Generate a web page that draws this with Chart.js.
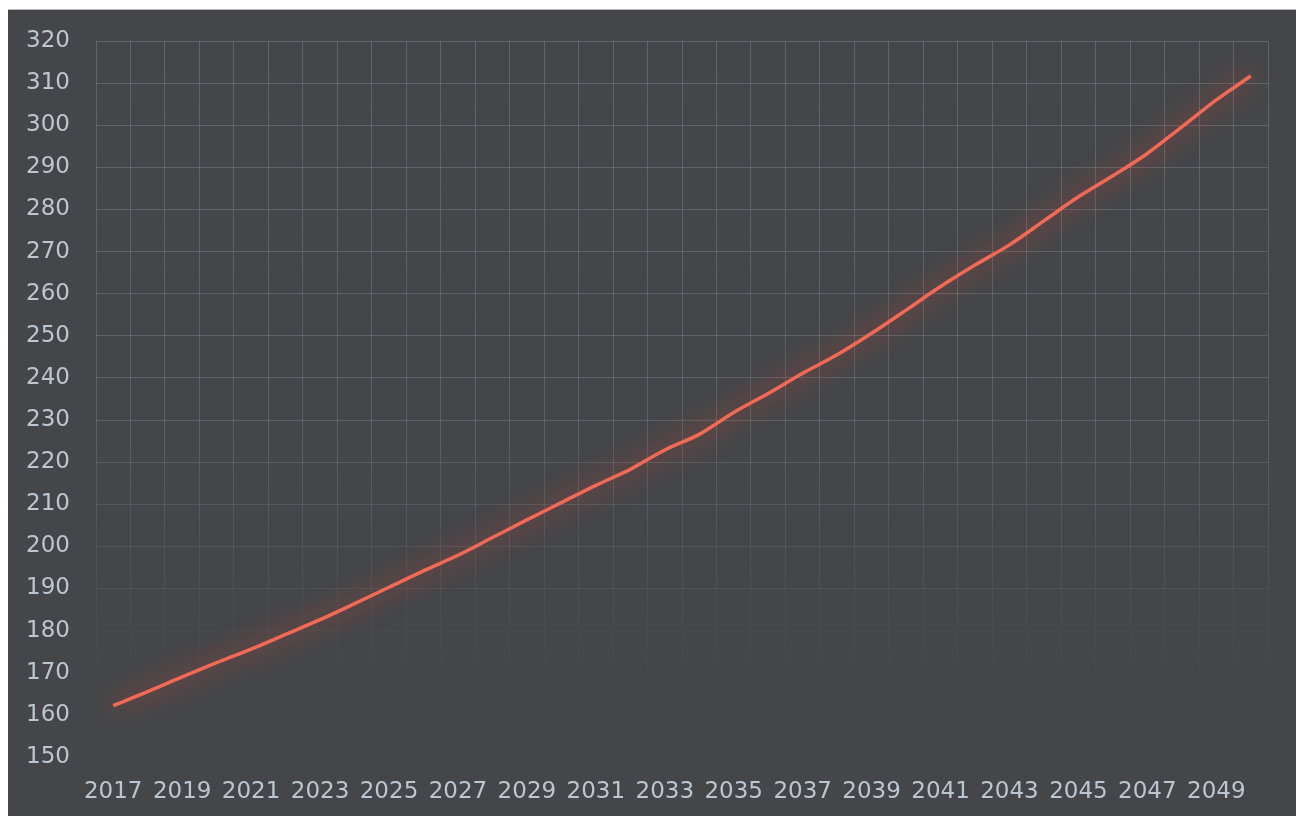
<!DOCTYPE html>
<html>
<head>
<meta charset="utf-8">
<title>Chart</title>
<script src="https://cdn.jsdelivr.net/npm/chart.js@4/dist/chart.umd.min.js"></script>
<style>
    html, body { margin: 0; padding: 0; background: #ffffff; }
    #panel {
        position: absolute;
        left: 8px;
        top: 9px;
        width: 1288px;
        height: 806px;
        background: #444649;
        border-top: 1px solid #b9b9b9;
    }
    #chart { display: block; }
</style>
</head>
<body>
<div id="panel"><canvas id="chart" width="1288" height="806"></canvas></div>
<script>
// data
const years = [
    '2017', '2018', '2019', '2020', '2021', '2022', '2023', '2024', '2025', '2026',
    '2027', '2028', '2029', '2030', '2031', '2032', '2033', '2034', '2035', '2036',
    '2037', '2038', '2039', '2040', '2041', '2042', '2043', '2044', '2045', '2046',
    '2047', '2048', '2049', '2050'
];
const values = [
    162.2, 165.5, 169.0, 172.4, 175.6, 179.1, 182.6, 186.4, 190.3, 194.2,
    197.9, 202.1, 206.3, 210.4, 214.5, 218.3, 222.9, 226.6, 231.8, 236.3,
    241.1, 245.5, 250.6, 256.1, 261.7, 266.8, 271.6, 277.3, 283.0, 288.0,
    293.3, 299.6, 306.0, 311.7
];
const yMin = 150;
const yMax = 320;
const yStep = 10;

const textColor = '#bcc6d0';
const tickFont = { family: '"DejaVu Sans", sans-serif', size: 23 };

// grid fades out toward the bottom of the plot
let gridGradient = null;
function gridColor(context) {
    const chart = context.chart;
    const area = chart.chartArea;
    if (!area) return 'rgba(120,126,132,0.45)';
    if (!gridGradient) {
        gridGradient = chart.ctx.createLinearGradient(0, area.top, 0, area.bottom);
        gridGradient.addColorStop(0, 'rgba(125,131,137,0.5)');
        gridGradient.addColorStop(0.55, 'rgba(125,131,137,0.42)');
        gridGradient.addColorStop(0.75, 'rgba(125,131,137,0.18)');
        gridGradient.addColorStop(0.9, 'rgba(125,131,137,0.0)');
        gridGradient.addColorStop(1, 'rgba(125,131,137,0.0)');
    }
    return gridGradient;
}

// soft red glow under the line
const glowPlugin = {
    id: 'glow',
    beforeDatasetDraw(chart) {
        const ctx = chart.ctx;
        ctx.save();
        ctx.shadowColor = 'rgba(240, 70, 50, 1)';
        ctx.shadowBlur = 26;
    },
    afterDatasetDraw(chart) {
        chart.ctx.restore();
    }
};

new Chart(document.getElementById('chart'), {
    type: 'line',
    data: {
        labels: years,
        datasets: [{
            data: values,
            borderColor: '#f26a55',
            borderWidth: 3.5,
            pointRadius: 0,
            tension: 0.3,
            fill: false
        }]
    },
    options: {
        responsive: false,
        animation: false,
        events: [],
        layout: { padding: { left: 0, top: 31, right: 28, bottom: 0 } },
        plugins: {
            legend: { display: false },
            tooltip: { enabled: false }
        },
        scales: {
            x: {
                offset: true,
                grid: { offset: true, color: gridColor, lineWidth: 1, drawTicks: false },
                border: { display: false },
                ticks: {
                    color: textColor,
                    font: tickFont,
                    padding: 21,
                    autoSkip: false,
                    maxRotation: 0,
                    callback: function(value, index) {
                        return index % 2 === 0 ? years[index] : '';
                    }
                },
                afterFit(scale) { scale.height = 59; }
            },
            y: {
                min: yMin,
                max: yMax,
                grid: { color: gridColor, lineWidth: 1, drawTicks: false },
                border: { display: false },
                ticks: {
                    stepSize: yStep,
                    color: textColor,
                    font: tickFont,
                    padding: 26
                },
                afterFit(scale) {
                    scale.width = 88;
                    // keep the label padding from pushing the plot down
                    scale.paddingTop = 0;
                    scale.paddingBottom = 0;
                }
            }
        }
    },
    plugins: [glowPlugin]
});
</script>
</body>
</html>
